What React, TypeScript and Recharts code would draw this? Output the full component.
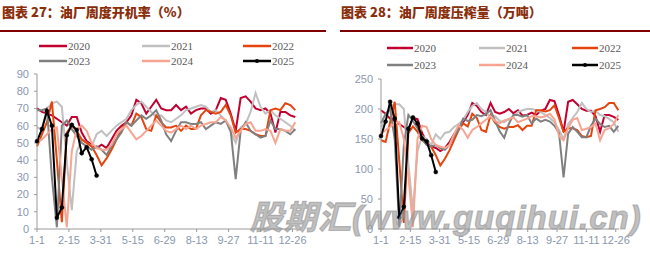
import React from "react";
import { LineChart, Line, XAxis, YAxis } from "recharts";

// ---------- data ----------
const tickDays = [0, 45, 90, 135, 180, 225, 270, 315, 360];
const tickLabels = ["1-1", "2-15", "3-31", "5-15", "6-29", "8-13", "9-27", "11-11", "12-26"];
const years = ["2020", "2021", "2022", "2023", "2024", "2025"];

// 油厂周度开机率（%）, weekly from 1-1
const rate2020 = [70, 68, 67, 66, 64, 62, 60, 65, 65, 56, 51, 49, 47, 49, 47, 52, 57, 60, 62, 66, 75, 73, 67, 71, 75, 70, 69, 69, 72, 69, 71, 67, 69, 70, 70, 67, 69, 76, 75, 67, 57, 76, 77, 74, 70, 69, 70, 67, 56, 68, 68, 66, 65];
const rate2021 = [59, 58, 70, 73, 74, 71, 39, 11, 45, 52, 50, 48, 55, 57, 54, 57, 60, 62, 64, 69, 72, 74, 71, 68, 65, 66, 63, 62, 64, 66, 69, 70, 71, 72, 71, 68, 69, 66, 63, 56, 50, 59, 61, 68, 79, 71, 67, 69, 66, 64, 62, 60, 57];
const rate2022 = [48, 55, 62, 74, 40, 4, 56, 60, 57, 52, 50, 48, 43, 37, 41, 46, 52, 58, 62, 60, 67, 65, 58, 57, 66, 62, 59, 59, 60, 57, 60, 58, 58, 66, 69, 68, 67, 68, 72, 66, 56, 58, 58, 57, 55, 54, 54, 69, 70, 69, 73, 72, 69];
const rate2023 = [69, 69, 70, 30, 1, 60, 63, 58, 54, 50, 48, 46, 48, 46, 43, 48, 52, 56, 62, 60, 63, 66, 64, 66, 69, 63, 55, 51, 57, 62, 62, 61, 61, 62, 58, 60, 62, 61, 63, 57, 29, 57, 62, 57, 55, 53, 54, 63, 58, 58, 57, 55, 58];
const rate2024 = [50, 52, 55, 58, 59, 30, 1, 45, 58, 60, 57, 50, 47, 46, 46, 49, 55, 58, 60, 56, 52, 54, 57, 60, 63, 60, 57, 56, 58, 60, 58, 60, 58, 60, 61, 62, 62, 65, 63, 59, 53, 57, 61, 62, 57, 57, 58, 57, 50, 58, 57, 57, 62];
const rate2025 = [51, 58, 68.5, 60, 6.5, 12.5, 54.5, 60.5, 57.5, 44, 47.5, 40.5, 31];

// 油厂周度压榨量（万吨）
const crush2020 = [198, 192, 184, 180, 175, 170, 165, 185, 183, 160, 145, 138, 135, 130, 135, 145, 158, 168, 178, 190, 210, 205, 195, 190, 210, 195, 192, 195, 200, 193, 198, 189, 190, 194, 190, 197, 200, 215, 213, 190, 162, 212, 215, 208, 200, 197, 197, 188, 162, 190, 190, 187, 182];
const crush2021 = [170, 180, 205, 208, 208, 200, 110, 30, 130, 155, 150, 140, 158, 150, 160, 162, 170, 175, 182, 195, 205, 210, 200, 195, 185, 188, 180, 178, 183, 188, 195, 198, 200, 200, 198, 195, 190, 185, 178, 165, 150, 175, 185, 195, 210, 200, 195, 197, 190, 188, 183, 178, 162];
const crush2022 = [148, 145, 178, 212, 114, 10, 160, 171, 162, 148, 142, 137, 123, 106, 117, 131, 148, 165, 176, 171, 192, 185, 165, 162, 190, 177, 170, 167, 170, 170, 173, 165, 172, 172, 198, 198, 196, 198, 206, 185, 162, 168, 168, 165, 155, 153, 155, 198, 200, 203, 210, 210, 198];
const crush2023 = [176, 192, 200, 150, 3, 140, 190, 180, 168, 150, 140, 138, 140, 135, 132, 140, 155, 165, 184, 180, 182, 190, 188, 192, 198, 180, 163, 152, 175, 190, 190, 187, 190, 176, 184, 179, 182, 179, 172, 160, 86, 159, 170, 162, 153, 153, 172, 184, 175, 170, 172, 162, 172];
const crush2024 = [158, 165, 170, 176, 178, 150, 90, 3, 150, 172, 170, 150, 140, 137, 135, 140, 158, 173, 165, 152, 165, 170, 176, 182, 188, 180, 176, 181, 183, 186, 178, 181, 184, 188, 188, 186, 188, 192, 183, 155, 148, 168, 182, 185, 165, 167, 170, 176, 148, 165, 168, 175, 190];
const crush2025 = [155, 179, 212, 184, 19.5, 37, 167, 186, 176, 151, 146, 123, 95];

const rateTicks = [0, 10, 20, 30, 40, 50, 60, 70, 80, 90];
const crushTicks = [0, 50, 100, 150, 200, 250];

// ---------- styles ----------
const COLORS: Record<string, string> = {
  "2020": "#C2002F",
  "2021": "#C0C0C0",
  "2022": "#E5440C",
  "2023": "#808080",
  "2024": "#F7A491",
  "2025": "#000000",
};
const TITLE_COLOR = "#8A2E0C";
const RULE_COLOR = "#7E0000";
const AXIS_COLOR = "#9A9A9A";
const TICK_COLOR = "#8A97AE";

function buildRows(series: number[][]) {
  const n = Math.max(...series.map((s) => s.length));
  const rows: any[] = [];
  for (let i = 0; i < n; i++) {
    const r: any = { d: i * 7 };
    years.forEach((y, k) => {
      const v = series[k][i];
      if (v !== undefined) r[y] = v;
    });
    rows.push(r);
  }
  return rows;
}

const rateRows = buildRows([rate2020, rate2021, rate2022, rate2023, rate2024, rate2025]);
const crushRows = buildRows([crush2020, crush2021, crush2022, crush2023, crush2024, crush2025]);

const tickFmt = (v: number) => {
  const i = tickDays.indexOf(v);
  return i >= 0 ? tickLabels[i] : "";
};

function Panel(props: {
  rows: any[];
  yMax: number;
  yTicks: number[];
  margin: any;
  yWidth: number;
  width: number;
}) {
  const { rows, yMax, yTicks, margin, yWidth, width } = props;
  const tickStyle = { fill: TICK_COLOR, fontSize: 11, fontFamily: "'Liberation Sans', Arial, sans-serif" };
  return (
    <LineChart width={width} height={254} data={rows} margin={margin}>
      <XAxis
        dataKey="d"
        type="number"
        domain={[0, 365]}
        ticks={tickDays}
        interval={0}
        tickFormatter={tickFmt}
        height={25}
        tick={tickStyle}
        tickSize={3}
        tickMargin={4}
        axisLine={{ stroke: AXIS_COLOR, strokeWidth: 1 }}
        tickLine={{ stroke: AXIS_COLOR }}
      />
      <YAxis
        type="number"
        domain={[0, yMax]}
        ticks={yTicks}
        interval={0}
        width={yWidth}
        tick={tickStyle}
        tickSize={3}
        tickMargin={5}
        axisLine={{ stroke: AXIS_COLOR, strokeWidth: 1 }}
        tickLine={{ stroke: AXIS_COLOR }}
      />
      {years.map((y) => (
        <Line
          key={y}
          dataKey={y}
          type="linear"
          stroke={COLORS[y]}
          strokeWidth={2}
          dot={y === "2025" ? { r: 2, fill: "#000", stroke: "#000", strokeWidth: 0.5 } : false}
          isAnimationActive={false}
          connectNulls={false}
        />
      ))}
    </LineChart>
  );
}

function Legend(props: { colX: number[]; rowY: number[]; lineW: number }) {
  const { colX, rowY, lineW } = props;
  return (
    <>
      {years.map((y, k) => {
        const x = colX[k % 3];
        const yy = rowY[Math.floor(k / 3)];
        return (
          <g key={y}>
            <line x1={x} x2={x + lineW} y1={yy} y2={yy} stroke={COLORS[y]} strokeWidth={2.5} />
            {y === "2025" && <circle cx={x + lineW / 2} cy={yy} r={2} fill="#000" />}
            <text
              x={x + lineW + 1}
              y={yy}
              dominantBaseline="central"
              fontSize={11}
              fontFamily="'Liberation Serif', 'Times New Roman', serif"
              fill="#595959"
            >
              {y}
            </text>
          </g>
        );
      })}
    </>
  );
}

const titleStyle: React.CSSProperties = {
  position: "absolute",
  top: 4,
  fontSize: 13,
  fontWeight: 900,
  color: TITLE_COLOR,
  fontFamily: "'Noto Sans CJK SC', sans-serif",
  whiteSpace: "nowrap",
  lineHeight: "16px",
};

export default function App() {
  return (
    <div style={{ position: "absolute", left: 0, top: 0, width: 650, height: 254, background: "#fff", overflow: "hidden" }}>
      <div style={{ ...titleStyle, left: 2 }}>图表 27：油厂周度开机率（%）</div>
      <div style={{ ...titleStyle, left: 341 }}>图表 28：油厂周度压榨量（万吨）</div>
      <div style={{ position: "absolute", left: 0, top: 30, width: 326, height: 2, background: RULE_COLOR }} />
      <div style={{ position: "absolute", left: 340, top: 30, width: 310, height: 2, background: RULE_COLOR }} />

      <div style={{ position: "absolute", left: 0, top: 0 }}>
        <Panel rows={rateRows} yMax={90} yTicks={rateTicks} width={325} yWidth={37} margin={{ top: 74, right: 29, bottom: 0, left: 0 }} />
      </div>
      <div style={{ position: "absolute", left: 325, top: 0 }}>
        <Panel rows={crushRows} yMax={250} yTicks={crushTicks} width={325} yWidth={40} margin={{ top: 79, right: 31, bottom: 0, left: 16 }} />
      </div>

      <svg width={650} height={254} style={{ position: "absolute", left: 0, top: 0, pointerEvents: "none" }}>
        <Legend colX={[39, 142, 243]} rowY={[46, 61]} lineW={28} />
        <Legend colX={[387, 479, 572]} rowY={[48, 65]} lineW={26} />
      </svg>

      <div
        style={{
          position: "absolute",
          left: 250,
          top: 201,
          fontSize: 33,
          lineHeight: "33px",
          fontWeight: 700,
          fontStyle: "italic",
          letterSpacing: 1,
          color: "rgba(150,150,150,0.62)",
          WebkitTextStroke: "1.2px rgba(150,150,150,0.62)",
          fontFamily: "'Liberation Sans', 'Noto Sans CJK SC', sans-serif",
          whiteSpace: "nowrap",
          pointerEvents: "none",
        }}
      >
        股期汇(www.guqihui.cn)
      </div>
    </div>
  );
}
